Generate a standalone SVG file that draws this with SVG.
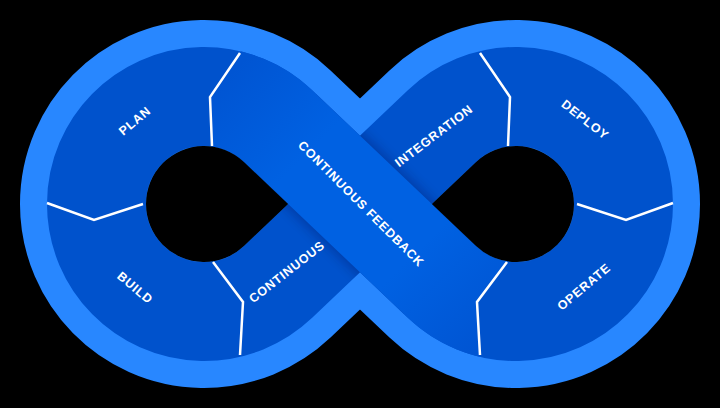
<svg xmlns="http://www.w3.org/2000/svg" width="720" height="408" viewBox="0 0 720 408">
  <defs>
    <style>
      .lbl { fill: #ffffff; font-family: "Liberation Sans", Arial, sans-serif; font-weight: 700; font-size: 12.5px; letter-spacing: 0.8px; text-anchor: middle; dominant-baseline: central; }
      .div { fill: none; stroke: #ffffff; stroke-width: 2.5; stroke-linejoin: miter; stroke-linecap: butt; }
      .hole { fill: #000000; }
    </style>
    <path id="loop" d="M 278.08,126.11 L 441.92,281.89 A 107.5 107.5 0 1 0 441.92,126.11 L 278.08,281.89 A 107.5 107.5 0 1 1 278.08,126.11 Z"/>
    <clipPath id="fbclip">
      <polygon points="276,0 240,53 210,97 212,146 212,230 200,408 481,408 480,354 477,302 507,262 508,220 720,220 720,0"/>
    </clipPath>
    <mask id="bandmask" maskUnits="userSpaceOnUse" x="0" y="0" width="720" height="408">
      <rect x="0" y="0" width="720" height="408" fill="#000000"/>
      <use href="#loop" fill="none" stroke="#ffffff" stroke-width="99"/>
    </mask>
    <filter id="soft" x="-20%" y="-20%" width="140%" height="140%">
      <feGaussianBlur stdDeviation="5"/>
    </filter>
    <linearGradient id="fbgrad" gradientUnits="userSpaceOnUse" x1="230" y1="74" x2="490" y2="334">
      <stop offset="0" stop-color="#0055D3"/>
      <stop offset="0.3" stop-color="#0061E2"/>
      <stop offset="0.7" stop-color="#0061E2"/>
      <stop offset="1" stop-color="#0055D3"/>
    </linearGradient>
  </defs>
  <rect x="0" y="0" width="720" height="408" fill="#000000"/>

  <g id="ribbon">
    <use href="#loop" fill="none" stroke="#2887FF" stroke-width="153"/>
    <use href="#loop" fill="none" stroke="#0052CC" stroke-width="99"/>
    <g mask="url(#bandmask)">
      <path id="feedback-shadow" filter="url(#soft)" d="M 278.08,126.11 L 441.92,281.89" fill="none" stroke="#001040" stroke-opacity="0.22" stroke-width="108"/>
    </g>
    <path id="feedback-band" clip-path="url(#fbclip)" d="M 185.33,98.13 A 107.5 107.5 0 0 1 278.08,126.11 L 441.92,281.89 A 107.5 107.5 0 0 0 525.37,311.09" fill="none" stroke="url(#fbgrad)" stroke-width="99"/>
    <path class="hole" d="M 288.17,204 L 243.97,161.97 A 58 58 0 1 0 243.97,246.03 Z"/>
    <path class="hole" d="M 431.83,204 L 476.03,161.97 A 58 58 0 1 1 476.03,246.03 Z"/>
  </g>

  <g id="connectors">
    <polyline class="div" points="240,53 210,97 212,146"/>
    <polyline class="div" points="47,203 94,220 143,204"/>
    <polyline class="div" points="213,262 243,302 240,355"/>
    <polyline class="div" points="480,53 510,97 508,146"/>
    <polyline class="div" points="673,203 626,220 577,204"/>
    <polyline class="div" points="507,262 477,302 480,355"/>
  </g>

  <g id="plan"><text class="lbl" transform="translate(135,121) rotate(-40)">PLAN</text></g>
  <g id="build"><text class="lbl" transform="translate(135,288) rotate(40)">BUILD</text></g>
  <g id="continuous"><text class="lbl" transform="translate(287,272) rotate(-38)">CONTINUOUS</text></g>
  <g id="continuous-feedback"><text class="lbl" transform="translate(361,204) rotate(45)">CONTINUOUS FEEDBACK</text></g>
  <g id="integration"><text class="lbl" transform="translate(434,136) rotate(-37)">INTEGRATION</text></g>
  <g id="deploy"><text class="lbl" transform="translate(585,120) rotate(38)">DEPLOY</text></g>
  <g id="operate"><text class="lbl" transform="translate(584,287) rotate(-40)">OPERATE</text></g>
</svg>
